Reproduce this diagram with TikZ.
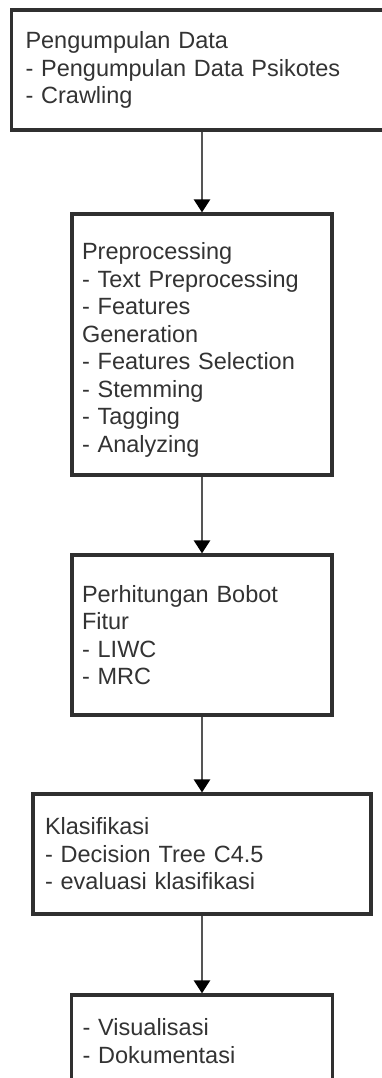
\documentclass[tikz,border=0pt]{standalone}
\usepackage{fontspec}
\setmainfont{Liberation Sans}
\usepackage{xcolor}
\usetikzlibrary{arrows.meta,positioning}

\definecolor{boxgray}{HTML}{303030}
\definecolor{linegray}{HTML}{555555}
\definecolor{textgray}{HTML}{333333}

\begin{document}
\begin{tikzpicture}[
  stage/.style={draw=boxgray, line width=3.2pt, fill=white, align=left,
    inner xsep=11pt, inner ysep=0pt, text=textgray,
    font=\fontsize{23.5}{27.5}\selectfont},
  arr/.style={-{Triangle[width=16pt, length=13pt, color=black]},
    line width=2.6pt, draw=linegray}
]
  \fill[white] (0pt,0pt) rectangle (382pt,-1078pt);
  \useasboundingbox (0pt,0pt) rectangle (382pt,-1078pt);

  \node[stage, inner xsep=14pt, text width=353pt, minimum height=120pt]
    (data) at (202pt,-70pt)
    {Pengumpulan Data\\- Pengumpulan Data Psikotes\\- Crawling};
  \node[stage, inner xsep=10pt, text width=240pt, minimum height=261pt,
    below=80.8pt of data] (prep)
    {\mbox{}\\Preprocessing\\- Text Preprocessing\\- Features\\Generation\\%
     - Features Selection\\- Stemming\\- Tagging\\- Analyzing};
  \node[stage, inner xsep=10pt, text width=240pt, minimum height=160pt,
    below=76.8pt of prep] (bobot)
    {Perhitungan Bobot\\Fitur\\- LIWC\\- MRC};
  \node[stage, inner xsep=12pt, text width=314pt, minimum height=120pt,
    below=75.8pt of bobot] (klas)
    {Klasifikasi\\- Decision Tree C4.5\\- evaluasi klasifikasi};
  \node[stage, inner xsep=11pt, text width=239pt, minimum height=92pt,
    below=77.8pt of klas] (visual)
    {- Visualisasi\\- Dokumentasi};

  \draw[arr] (data) -- (prep);
  \draw[arr] (prep) -- (bobot);
  \draw[arr] (bobot) -- (klas);
  \draw[arr] (klas) -- (visual);
\end{tikzpicture}
\end{document}
